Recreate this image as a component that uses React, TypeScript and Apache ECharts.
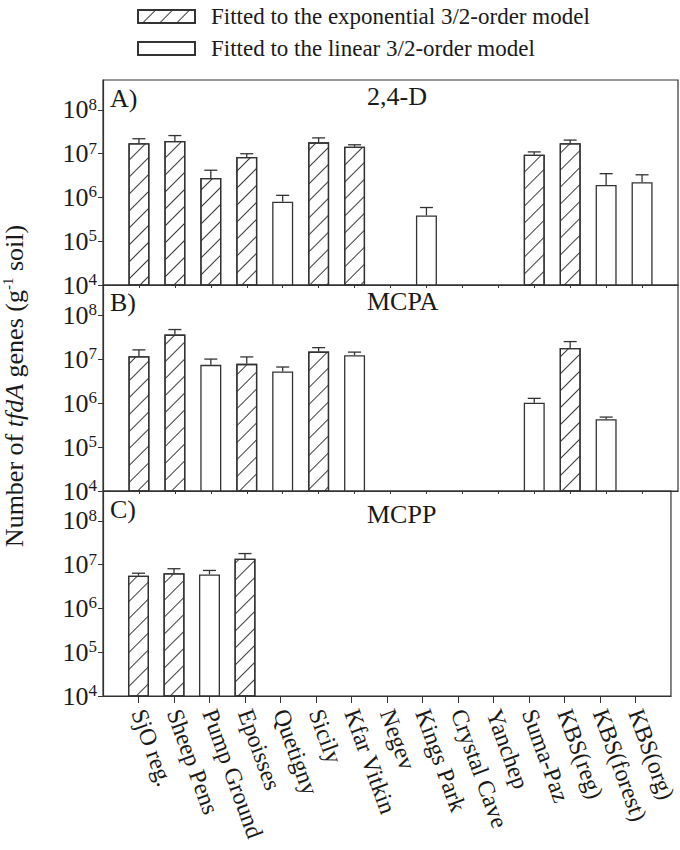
import React, { useEffect, useRef } from "react";
import * as echarts from "echarts";

const categories = [
  "SjO reg.", "Sheep Pens", "Pump Ground", "Epoisses", "Quetigny", "Sicily", "Kfar Vitkin",
  "Negev", "Kings Park", "Crystal Cave", "Yanchep", "Suma-Paz", "KBS(reg)", "KBS(forest)", "KBS(org)",
];

const d24Values = [1.73e7, 1.95e7, 2.8e6, 8.4e6, 8.0e5, 1.82e7, 1.44e7, null, 3.9e5, null, null, 9.5e6, 1.73e7, 1.93e6, 2.24e6];
const d24Upper = [2.2e7, 2.6e7, 4.2e6, 1.0e7, 1.12e6, 2.3e7, 1.6e7, null, 5.9e5, null, null, 1.1e7, 2.05e7, 3.5e6, 3.3e6];
const d24Model = ["exp", "exp", "exp", "exp", "lin", "exp", "exp", null, "lin", null, null, "exp", "exp", "lin", "lin"];

const mcpaValues = [1.16e7, 3.6e7, 7.4e6, 7.8e6, 5.2e6, 1.48e7, 1.23e7, null, null, null, null, 1.02e6, 1.78e7, 4.3e5, null];
const mcpaUpper = [1.62e7, 4.7e7, 1.0e7, 1.12e7, 6.6e6, 1.82e7, 1.44e7, null, null, null, null, 1.28e6, 2.5e7, 4.8e5, null];
const mcpaModel = ["exp", "exp", "lin", "exp", "lin", "exp", "lin", null, null, null, null, "lin", "exp", "lin", null];

const mcppValues = [5.6e6, 6.4e6, 6.0e6, 1.37e7, null, null, null, null, null, null, null, null, null, null, null];
const mcppUpper = [6.4e6, 8.1e6, 7.4e6, 1.8e7, null, null, null, null, null, null, null, null, null, null, null];
const mcppModel = ["exp", "exp", "lin", "exp", null, null, null, null, null, null, null, null, null, null, null];

const panelLetters = ["A)", "B)", "C)"];
const panelNames = ["2,4-D", "MCPA", "MCPP"];
const expName = "Fitted to the exponential 3/2-order model";
const linName = "Fitted to the linear 3/2-order model";

const FONT = "'Liberation Serif', 'Times New Roman', serif";
const INK = "#333";
const TXT = "#1a1a1a";

export default function App() {
  const ref = useRef<HTMLDivElement>(null);
  useEffect(() => {
    document.body.style.margin = "0";
    const chart = echarts.init(ref.current!, undefined, { renderer: "svg" });
    const panels = [
      { values: d24Values, upper: d24Upper, model: d24Model },
      { values: mcpaValues, upper: mcpaUpper, model: mcpaModel },
      { values: mcppValues, upper: mcppUpper, model: mcppModel },
    ];
    const tops = [80, 285, 491];
    const heights = [205, 206, 205];
    const ticks15 = categories.map((_, i) => i + 1);
    const decal = {
      symbol: "rect",
      symbolSize: 1,
      dashArrayX: [1, 0],
      dashArrayY: [1, 10.5],
      rotation: -Math.PI / 4,
      color: "#3a3a3a",
      backgroundColor: "#fff",
    };
    const grids = tops.map((t, i) => ({
      left: 103, right: 2, top: t, height: heights[i], show: true,
      borderColor: INK, borderWidth: 1.2, backgroundColor: "transparent",
    }));
    const xAxes = tops.map((_, i) => ({
      type: "value", gridIndex: i, min: 0, max: 16, interval: 1,
      splitLine: { show: false },
      axisLine: { show: true, lineStyle: { color: INK, width: 1.2 } },
      axisTick: { show: true, customValues: ticks15, length: i === 2 ? 7 : 3, lineStyle: { color: INK, width: 1 } },
      axisLabel: i === 2 ? {
        show: true, customValues: ticks15, rotate: -70, margin: 14,
        fontFamily: FONT, fontSize: 24, color: TXT,
        formatter: (v: number) => categories[Math.round(v) - 1] ?? "",
      } : { show: false },
    }));
    const yAxes = tops.map((_, i) => ({
      type: "log", gridIndex: i, logBase: 10, min: 1e4, max: 4.84e8,
      splitLine: { show: false },
      axisLine: { show: true, lineStyle: { color: INK, width: 1.2 } },
      axisTick: { show: true, length: 5, lineStyle: { color: INK, width: 1 } },
      axisLabel: {
        show: true, margin: 6, showMaxLabel: false,
        formatter: (v: number) => {
          const e = Math.log10(v);
          if (Math.abs(e - Math.round(e)) > 1e-6) return "";
          return `{b|10}{s|${Math.round(e)}}`;
        },
        rich: {
          b: { fontFamily: FONT, fontSize: 26, color: TXT, lineHeight: 28 },
          s: { fontFamily: FONT, fontSize: 17, color: TXT, verticalAlign: "top", lineHeight: 16 },
        },
      },
    }));
    const series: any[] = [];
    panels.forEach((p, i) => {
      const expData = p.model.map((m, k) => (m === "exp" ? [k + 1, p.values[k]] : null)).filter(Boolean);
      const linData = p.model.map((m, k) => (m === "lin" ? [k + 1, p.values[k]] : null)).filter(Boolean);
      const errData = p.values.map((v, k) => (v != null && p.upper[k] != null ? [k + 1, v, p.upper[k]] : null)).filter(Boolean);
      series.push({
        name: expName, type: "bar", xAxisIndex: i, yAxisIndex: i, data: expData,
        barWidth: 21, barGap: "-100%",
        itemStyle: { color: "#fff", borderColor: INK, borderWidth: 1.3, decal },
      });
      series.push({
        name: linName, type: "bar", xAxisIndex: i, yAxisIndex: i, data: linData,
        barWidth: 21, barGap: "-100%",
        itemStyle: { color: "#fff", borderColor: INK, borderWidth: 1.3 },
      });
      series.push({
        type: "custom", xAxisIndex: i, yAxisIndex: i, data: errData, z: 5,
        encode: { x: 0, y: [1, 2] },
        renderItem: (params: any, api: any) => {
          const x = api.value(0);
          const lo = api.coord([x, api.value(1)]);
          const hi = api.coord([x, api.value(2)]);
          const st = { stroke: INK, lineWidth: 1.3 };
          return {
            type: "group",
            children: [
              { type: "line", shape: { x1: lo[0], y1: lo[1], x2: hi[0], y2: hi[1] }, style: st },
              { type: "line", shape: { x1: hi[0] - 6.5, y1: hi[1], x2: hi[0] + 6.5, y2: hi[1] }, style: st },
            ],
          };
        },
      });
    });
    const graphic: any[] = [];
    const letterY = [99, 303, 510];
    const nameY = [97, 302, 515];
    tops.forEach((_, i) => {
      graphic.push({
        type: "text", left: 110, top: letterY[i] - 14,
        style: { text: panelLetters[i], fontFamily: FONT, fontSize: 26, fill: TXT },
      });
      graphic.push({
        type: "text", left: 367, top: nameY[i] - 14,
        style: { text: panelNames[i], fontFamily: FONT, fontSize: 26, fill: TXT },
      });
    });
    graphic.push({
      type: "text", x: 14, y: 386, rotation: Math.PI / 2,
      style: {
        text: "{n|Number of }{i|tfdA}{n| genes (g}{s|-1}{n| soil)}",
        align: "center", verticalAlign: "middle",
        rich: {
          n: { fontFamily: FONT, fontSize: 26, fill: TXT, color: TXT, lineHeight: 28 },
          i: { fontFamily: FONT, fontSize: 26, fontStyle: "italic", fill: TXT, color: TXT, lineHeight: 28 },
          s: { fontFamily: FONT, fontSize: 15, fill: TXT, color: TXT, verticalAlign: "top", lineHeight: 15 },
        },
      },
    });
    chart.setOption({
      animation: false,
      backgroundColor: "#fff",
      legend: {
        orient: "vertical", left: 132, top: 0, itemWidth: 57, itemHeight: 13, itemGap: 9,
        selectedMode: false, icon: "rect",
        data: [expName, linName],
        textStyle: { fontFamily: FONT, fontSize: 23, color: TXT, lineHeight: 23, padding: [0, 0, 0, 11] },
      },
      grid: grids,
      xAxis: xAxes,
      yAxis: yAxes,
      series,
      graphic,
    });
    return () => chart.dispose();
  }, []);
  return <div ref={ref} style={{ width: 680, height: 850 }} />;
}
